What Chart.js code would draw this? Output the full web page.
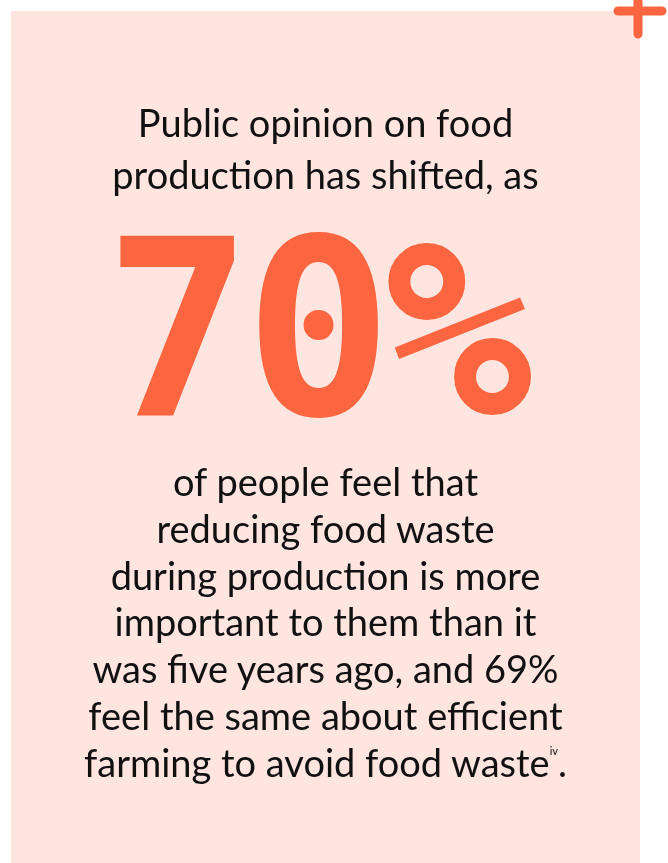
<!DOCTYPE html>
<html>
<head>
<meta charset="utf-8">
<script src="https://cdn.jsdelivr.net/npm/chart.js@4"></script>
<style>
  html, body { margin: 0; padding: 0; background: #fff; }
  #wrap { position: relative; width: 668px; height: 863px; overflow: hidden; }
  #bg { position: absolute; left: 0; top: 0; }
  .txt { position: absolute; left: 11px; width: 629px; text-align: center; color: #111;
         font-family: "Lato", "Noto Sans", sans-serif; font-size: 38px; }
  #intro { top: 96px; line-height: 52px; }
  #big { position: absolute; left: 0px; width: 629px; top: 198px; text-align: center;
         font-family: "DejaVu Sans Mono", monospace; font-weight: bold; font-size: 246px;
         line-height: 264px; color: #FB6641; letter-spacing: -8px; }
  #body { top: 458px; line-height: 46.8px; }
  sup { font-size: 11px; vertical-align: 22px; line-height: 0; }
</style>
</head>
<body>
<div id="wrap">
  <canvas id="bg" width="668" height="863"></canvas>
  <div class="txt" id="intro"></div>
  <div id="big"></div>
  <div class="txt" id="body"></div>
</div>
<script>
// headline figures
const statLabels = ['reducing food waste during production', 'efficient farming to avoid food waste'];
const statValues = [70, 69];
const introLines = ['Public opinion on food', 'production has shifted, as'];
const bodyLines = [
  'of people feel that',
  'reducing food waste',
  'during production is more',
  'important to them than it',
  'was five years ago, and ' + statValues[1] + '%',
  'feel the same about efficient',
  'farming to avoid food waste'
];
const footnote = 'iv';

document.getElementById('intro').innerHTML = introLines.join('<br>');
document.getElementById('big').textContent = statValues[0] + '%';
document.getElementById('body').innerHTML = bodyLines.join('<br>') + '<sup>' + footnote + '</sup>.';

// panel background + corner plus, drawn by a plugin on the chart area
const panelPlugin = {
  id: 'panel',
  beforeDraw(chart) {
    const { ctx, chartArea: a } = chart;
    ctx.save();
    ctx.fillStyle = '#FFE5E0';
    ctx.fillRect(a.left, a.top, a.right - a.left, a.bottom - a.top);
    ctx.strokeStyle = '#FB6641';
    ctx.lineWidth = 9;
    ctx.lineCap = 'round';
    ctx.beginPath();
    ctx.moveTo(a.right - 22, a.top);
    ctx.lineTo(a.right + 22, a.top);
    ctx.moveTo(a.right - 2, a.top - 10);
    ctx.lineTo(a.right - 2, a.top + 23);
    ctx.stroke();
    ctx.restore();
  }
};

new Chart(document.getElementById('bg'), {
  type: 'bar',
  data: {
    labels: statLabels,
    datasets: [{ data: statValues, backgroundColor: 'rgba(0,0,0,0)' }]
  },
  options: {
    responsive: false,
    animation: false,
    layout: { padding: { left: 11, top: 11, right: 28, bottom: 0 } },
    plugins: { legend: { display: false }, tooltip: { enabled: false } },
    scales: { x: { display: false }, y: { display: false, min: 0, max: 100 } }
  },
  plugins: [panelPlugin]
});
</script>
</body>
</html>
